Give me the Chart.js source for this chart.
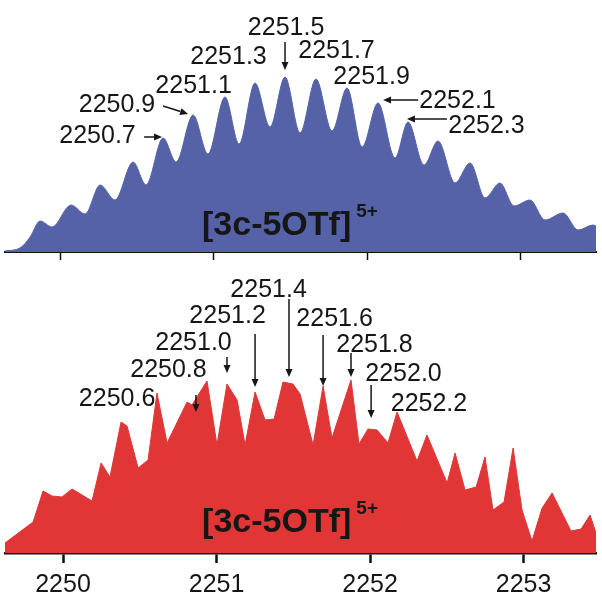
<!DOCTYPE html>
<html>
<head>
<meta charset="utf-8">
<script src="https://cdn.jsdelivr.net/npm/chart.js@4.4.1/dist/chart.umd.min.js"></script>
<style>
  body { margin: 0; background: #fff; }
  .wrap { position: absolute; left: 0; width: 602px; }
  #topWrap { top: 0; height: 262px; }
  #botWrap { top: 262px; height: 351px; }
</style>
</head>
<body>
<div class="wrap" id="topWrap"><canvas id="topChart" width="602" height="262"></canvas></div>
<div class="wrap" id="botWrap"><canvas id="botChart" width="602" height="351"></canvas></div>
<script>
// simulated pattern (top, blue)
const topMz = [2249.636, 2249.734, 2249.800, 2249.865, 2249.943, 2250.067, 2250.159, 2250.257, 2250.354, 2250.472,
  2250.557, 2250.668, 2250.753, 2250.864, 2250.961, 2251.072, 2251.164, 2251.268, 2251.366, 2251.464,
  2251.562, 2251.666, 2251.771, 2251.869, 2251.967, 2252.071, 2252.182, 2252.267, 2252.371, 2252.463,
  2252.574, 2252.672, 2252.770, 2252.867, 2252.959, 2253.063, 2253.161, 2253.279, 2253.377, 2253.475, 2253.494];
const topIntensity = [1, 4, 15, 31, 25, 47, 38, 67, 52, 90,
  67, 114, 90, 137, 98, 155, 108, 169, 125, 175,
  119, 173, 121, 164, 105, 149, 94, 130, 87, 111,
  69, 89, 54, 69, 46, 52, 32, 39, 22, 27, 26];

// measured pattern (bottom, red)
const botMz = [2249.622, 2249.805, 2249.870, 2249.928, 2249.993, 2250.059, 2250.189, 2250.248, 2250.306, 2250.378,
  2250.417, 2250.489, 2250.554, 2250.612, 2250.678, 2250.808, 2250.840, 2250.938, 2251.003, 2251.068,
  2251.134, 2251.186, 2251.251, 2251.316, 2251.375, 2251.433, 2251.498, 2251.544, 2251.629, 2251.694,
  2251.752, 2251.876, 2251.928, 2251.987, 2252.046, 2252.117, 2252.176, 2252.306, 2252.371, 2252.502,
  2252.554, 2252.619, 2252.691, 2252.749, 2252.801, 2252.873, 2252.932, 2252.990, 2253.055, 2253.121,
  2253.186, 2253.309, 2253.375, 2253.433, 2253.472];
const botIntensity = [10, 31, 62, 57, 56, 64, 52, 90, 76, 131,
  127, 85, 93, 160, 110, 151, 148, 172, 108, 169,
  153, 108, 161, 133, 134, 171, 169, 159, 108, 167,
  115, 173, 109, 124, 123, 110, 141, 92, 118, 70,
  100, 63, 66, 96, 43, 51, 105, 43, 12, 45,
  60, 22, 24, 38, 20];

const tickValues = [2250, 2251, 2252, 2253];

// [text, label m/z, label height, arrow from m/z, from height, to m/z, to height]
const topPeakLabels = [
  ["2251.5", 2251.471, 217, 2251.464, 210, 2251.464, 182],
  ["2251.3", 2251.095, 188],
  ["2251.7", 2251.800, 194],
  ["2251.9", 2252.029, 168],
  ["2251.1", 2250.867, 159],
  ["2250.9", 2250.367, 140, 2250.668, 146, 2250.831, 138],
  ["2250.7", 2250.240, 109, 2250.544, 115, 2250.661, 115],
  ["2252.1", 2252.590, 144, 2252.333, 152, 2252.104, 152],
  ["2252.3", 2252.779, 119, 2252.521, 133, 2252.260, 133]
];
const botPeakLabels = [
  ["2251.4", 2251.339, 256, 2251.472, 254, 2251.472, 176],
  ["2251.2", 2251.072, 230, 2251.251, 219, 2251.251, 166],
  ["2251.0", 2250.850, 203, 2251.068, 196, 2251.068, 180],
  ["2250.8", 2250.687, 176, 2250.866, 158, 2250.866, 141],
  ["2250.6", 2250.352, 147],
  ["2251.6", 2251.769, 227, 2251.694, 218, 2251.694, 167],
  ["2251.8", 2252.029, 201, 2251.876, 200, 2251.876, 176],
  ["2252.0", 2252.218, 172, 2252.007, 168, 2252.007, 135],
  ["2252.2", 2252.384, 142]
];

const FONT = '"Liberation Sans", Arial, Helvetica, sans-serif';

function arrow(ctx, x1, y1, x2, y2) {
  const a = Math.atan2(y2 - y1, x2 - x1);
  const head = 8, half = 3.5;
  const bx = x2 - head * Math.cos(a), by = y2 - head * Math.sin(a);
  ctx.beginPath();
  ctx.moveTo(x1, y1);
  ctx.lineTo(bx, by);
  ctx.stroke();
  ctx.beginPath();
  ctx.moveTo(x2, y2);
  ctx.lineTo(bx + half * Math.sin(a), by - half * Math.cos(a));
  ctx.lineTo(bx - half * Math.sin(a), by + half * Math.cos(a));
  ctx.closePath();
  ctx.fill();
}

const labelPlugin = {
  id: 'peakLabels',
  afterDatasetsDraw(chart, args, opts) {
    const ctx = chart.ctx, xs = chart.scales.x, ys = chart.scales.y;
    ctx.save();
    ctx.fillStyle = '#161616';
    ctx.strokeStyle = '#161616';
    ctx.lineWidth = 1.5;
    ctx.font = '25px ' + FONT;
    ctx.textAlign = 'center';
    ctx.textBaseline = 'alphabetic';
    opts.labels.forEach(l => {
      ctx.fillText(l[0], xs.getPixelForValue(l[1]), ys.getPixelForValue(l[2]));
      if (l.length > 3) {
        arrow(ctx, xs.getPixelForValue(l[3]), ys.getPixelForValue(l[4]),
          xs.getPixelForValue(l[5]), ys.getPixelForValue(l[6]));
      }
    });
    // ion label
    const px = xs.getPixelForValue(opts.title[0]), py = ys.getPixelForValue(opts.title[1]);
    ctx.textAlign = 'left';
    ctx.font = 'bold 34px ' + FONT;
    ctx.fillText('[3c-5OTf]', px, py);
    const w = ctx.measureText('[3c-5OTf]').width;
    ctx.font = 'bold 19px ' + FONT;
    ctx.fillText('5+', px + w + 5, py - 18);
    ctx.restore();
  }
};

function spectrum(id, mz, inten, color, xMin, xMax, yMax, smooth, labels, title, bottomAxis) {
  new Chart(document.getElementById(id), {
    type: 'line',
    data: {
      datasets: [{
        data: mz.map((m, i) => ({ x: m, y: inten[i] })),
        backgroundColor: color,
        borderColor: color,
        borderWidth: 1,
        fill: 'origin',
        pointRadius: 0,
        tension: smooth ? 0.4 : 0,
        cubicInterpolationMode: smooth ? 'monotone' : 'default'
      }]
    },
    options: {
      responsive: false,
      animation: false,
      devicePixelRatio: 1,
      layout: { padding: { left: 5, right: 6, top: 0, bottom: bottomAxis ? 6 : 2 } },
      plugins: {
        legend: { display: false },
        tooltip: { enabled: false },
        peakLabels: { labels: labels, title: title }
      },
      scales: {
        x: {
          type: 'linear',
          min: xMin,
          max: xMax,
          afterBuildTicks: s => { s.ticks = tickValues.map(v => ({ value: v })); },
          border: { display: true, color: '#111', width: bottomAxis ? 2.5 : 2 },
          grid: {
            drawOnChartArea: false,
            drawTicks: true,
            tickLength: bottomAxis ? 10 : 8,
            tickWidth: bottomAxis ? 2.5 : 1.5,
            tickColor: '#111'
          },
          ticks: {
            display: bottomAxis,
            padding: 7,
            color: '#161616',
            font: { size: 25, family: FONT },
            maxRotation: 0,
            callback: v => String(v)
          }
        },
        y: { display: false, min: 0, max: yMax }
      }
    },
    plugins: [labelPlugin]
  });
}

spectrum('topChart', topMz, topIntensity, '#5562a8', 2249.636, 2253.494, 252, true,
  topPeakLabels, [2250.922, 17], false);
spectrum('botChart', botMz, botIntensity, '#e03636', 2249.622, 2253.472, 291, false,
  botPeakLabels, [2250.906, 21], true);
</script>
</body>
</html>
